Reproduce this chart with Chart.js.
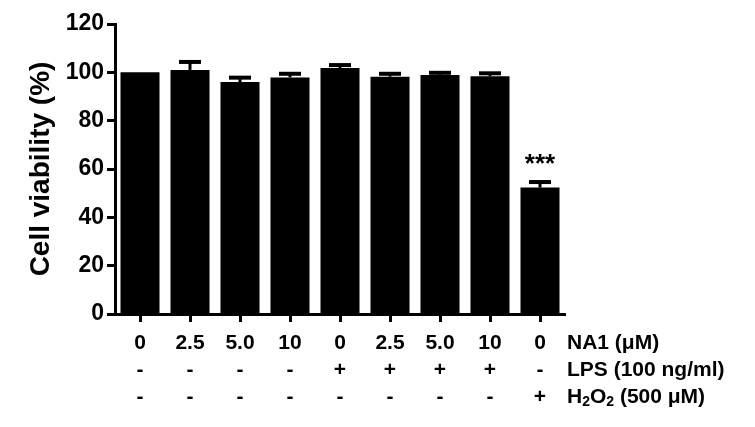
<!DOCTYPE html>
<html>
<head>
<meta charset="utf-8">
<script src="https://cdn.jsdelivr.net/npm/chart.js@4"></script>
<style>
  html, body { margin: 0; padding: 0; background: #fff; }
  #wrap { width: 755px; height: 427px; }
</style>
</head>
<body>
<div id="wrap"><canvas id="c" width="755" height="427"></canvas></div>
<script>
// ---- data ----
const na1Doses = ['0', '2.5', '5.0', '10', '0', '2.5', '5.0', '10', '0'];
const lpsRow = ['-', '-', '-', '-', '+', '+', '+', '+', '-'];
const h2o2Row = ['-', '-', '-', '-', '-', '-', '-', '-', '+'];
const viability = [100, 101.0, 96.0, 97.9, 101.8, 98.2, 98.9, 98.4, 52.3];
const semUpper = [0, 3.3, 1.8, 1.5, 1.2, 1.2, 0.9, 1.2, 2.3];
const significance = ['', '', '', '', '', '', '', '', '***'];
const yTickValues = [0, 20, 40, 60, 80, 100, 120];
const rowLabels = ['NA1 (μM)', 'LPS (100 ng/ml)', 'H2O2 (500 μM)'];
const yTitle = 'Cell viability (%)';

const FONT = "'Liberation Sans', Arial, Helvetica, sans-serif";
Chart.defaults.color = '#000';
Chart.defaults.font.family = FONT;

const xLabels = na1Doses.map((d, i) => [d, lpsRow[i], h2o2Row[i]]);
const X_TICK_LEN = 8, X_PAD = 8, X_LINE_H = 27, X_FONT = 21;

const errorBarPlugin = {
  id: 'errorBars',
  afterDatasetsDraw(chart) {
    const ctx = chart.ctx;
    const meta = chart.getDatasetMeta(0);
    const ys = chart.scales.y;
    ctx.save();
    ctx.fillStyle = '#000';
    ctx.strokeStyle = '#000';
    meta.data.forEach((bar, i) => {
      const v = viability[i], e = semUpper[i];
      const yBar = ys.getPixelForValue(v);
      const yTop = ys.getPixelForValue(v + e);
      if (e > 0) {
        ctx.lineWidth = 3;
        ctx.beginPath();
        ctx.moveTo(bar.x, yBar);
        ctx.lineTo(bar.x, yTop);
        ctx.stroke();
        ctx.fillRect(bar.x - 11, yTop - 2, 22, 4);
      }
      if (significance[i]) {
        ctx.font = 'bold 26px ' + FONT;
        ctx.textAlign = 'center';
        ctx.textBaseline = 'alphabetic';
        ctx.fillText(significance[i], bar.x, yTop - 10.5);
      }
    });
    ctx.restore();
  },
  afterDraw(chart) {
    const ctx = chart.ctx;
    const xs = chart.scales.x;
    const x0 = xs.right + 2;
    ctx.save();
    ctx.fillStyle = '#000';
    ctx.textAlign = 'left';
    ctx.textBaseline = 'middle';
    rowLabels.forEach((lbl, r) => {
      const y = xs.top + X_TICK_LEN + X_PAD + X_LINE_H * (r + 0.5);
      if (lbl === 'H2O2 (500 μM)') {
        const big = 'bold ' + X_FONT + 'px ' + FONT;
        const small = 'bold 14px ' + FONT;
        let x = x0;
        const parts = [['H', big, 0], ['2', small, 5], ['O', big, 0], ['2', small, 5], [' (500 μM)', big, 0]];
        parts.forEach(([t, f, dy]) => {
          ctx.font = f;
          ctx.fillText(t, x, y + dy);
          x += ctx.measureText(t).width;
        });
      } else {
        ctx.font = 'bold ' + X_FONT + 'px ' + FONT;
        ctx.fillText(lbl, x0, y);
      }
    });
    ctx.restore();
  }
};

new Chart(document.getElementById('c'), {
  type: 'bar',
  data: {
    labels: xLabels,
    datasets: [{
      data: viability,
      backgroundColor: '#000',
      borderWidth: 0,
      barPercentage: 0.78,
      categoryPercentage: 1.0
    }]
  },
  options: {
    responsive: false,
    animation: false,
    devicePixelRatio: 1,
    layout: { padding: { top: 24, right: 190, left: 0, bottom: 0 } },
    plugins: { legend: { display: false }, tooltip: { enabled: false } },
    scales: {
      x: {
        grid: {
          drawOnChartArea: false, drawTicks: true, offset: false,
          tickLength: X_TICK_LEN, tickWidth: 3, tickColor: '#000'
        },
        border: { display: true, color: '#000', width: 3 },
        ticks: {
          padding: X_PAD, maxRotation: 0, autoSkip: false, color: '#000',
          font: { size: X_FONT, weight: 'bold', lineHeight: X_LINE_H / X_FONT }
        },
        afterFit(scale) { scale.height = 113; }
      },
      y: {
        min: 0, max: 120,
        afterBuildTicks(scale) { scale.ticks = yTickValues.map(v => ({ value: v })); },
        grid: {
          drawOnChartArea: false, drawTicks: true,
          tickLength: 8, tickWidth: 3, tickColor: '#000'
        },
        border: { display: true, color: '#000', width: 3 },
        ticks: {
          padding: 3, color: '#000',
          font: { size: 23, weight: 'bold' }
        },
        title: {
          display: true, text: yTitle, color: '#000',
          font: { size: 28, weight: 'bold' },
          padding: { top: 24, bottom: 0 }
        },
        afterFit(scale) { scale.width = 115; }
      }
    }
  },
  plugins: [errorBarPlugin]
});
</script>
</body>
</html>
